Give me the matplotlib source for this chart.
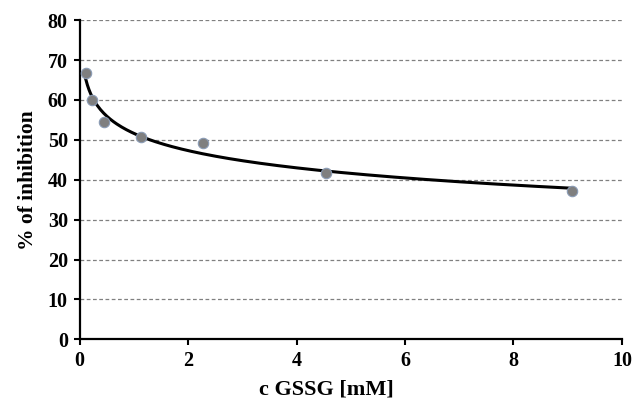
import numpy as np
import matplotlib.pyplot as plt

# measured points
c_gssg = [0.1135, 0.227, 0.454, 1.135, 2.27, 4.54, 9.08]
inhibition = [66.7, 60.0, 54.4, 50.6, 49.2, 41.8, 37.3]

x_ticks = [0, 2, 4, 6, 8, 10]
y_ticks = [0, 10, 20, 30, 40, 50, 60, 70, 80]

plt.rcParams['font.family'] = ['Liberation Serif', 'DejaVu Serif']
plt.rcParams['font.weight'] = 'bold'

fig = plt.figure(figsize=(6.32, 4.03), dpi=100)
ax = fig.add_axes([0.126, 0.158, 0.858, 0.792])

# logarithmic trendline fitted to the points
k, b = np.polyfit(np.log(c_gssg), inhibition, 1)
x_fit = np.linspace(min(c_gssg), max(c_gssg), 300)
ax.plot(x_fit, k * np.log(x_fit) + b, color='black', lw=2.2, zorder=2)

ax.plot(c_gssg, inhibition, 'o', color='#7f7f7f', mec='#8a9bb5', mew=0.8,
        markersize=7.5, zorder=3, clip_on=False)

ax.set_xlim(0, 10)
ax.set_ylim(0, 80)
ax.set_xticks(x_ticks)
ax.set_yticks(y_ticks)
for t in y_ticks[1:]:
    ax.axhline(t, color='#808080', lw=0.9, ls=(0, (3, 2)), zorder=1)

for s in ['top', 'right']:
    ax.spines[s].set_visible(False)
for s in ['left', 'bottom']:
    ax.spines[s].set_linewidth(1.6)
ax.tick_params(axis='both', direction='out', length=4.5, width=1.5,
               labelsize=14.5, pad=4)

ax.set_xlabel('c GSSG [mM]', fontsize=16, fontweight='bold')
ax.xaxis.set_label_coords(0.455, -0.125)
ax.set_ylabel('% of inhibition', fontsize=15.5, fontweight='bold', labelpad=7)

fig.savefig('out.png', dpi=100)
